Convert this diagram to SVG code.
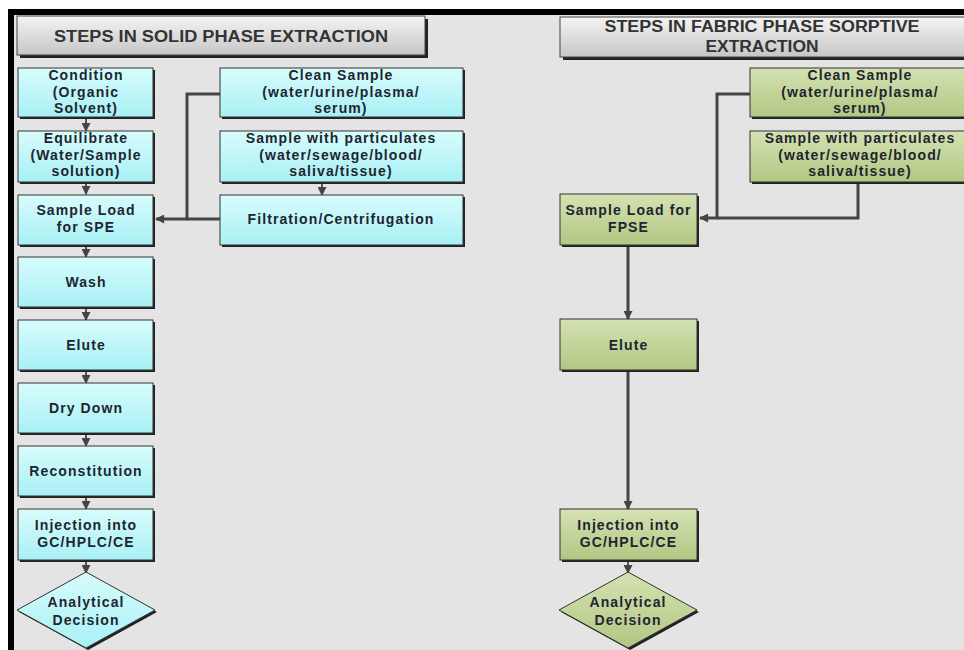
<svg xmlns="http://www.w3.org/2000/svg" width="964" height="650" viewBox="0 0 964 650">
<defs>
<linearGradient id="gCyan" x1="0" y1="0" x2="0" y2="1"><stop offset="0" stop-color="#d8fcfc"/><stop offset="1" stop-color="#a8f0f5"/></linearGradient>
<linearGradient id="gGreen" x1="0" y1="0" x2="0" y2="1"><stop offset="0" stop-color="#d4e2b2"/><stop offset="1" stop-color="#b2c783"/></linearGradient>
<linearGradient id="gGray" x1="0" y1="0" x2="0" y2="1"><stop offset="0" stop-color="#f4f4f4"/><stop offset="1" stop-color="#c6c6c6"/></linearGradient>
<marker id="arr" viewBox="0 0 10 10" refX="9" refY="5" markerUnits="userSpaceOnUse" markerWidth="10" markerHeight="9" orient="auto"><path d="M0,0 L10,5 L0,10 z" fill="#444"/></marker>
</defs>
<style>
.shadow{fill:#222}
.cyan{fill:url(#gCyan);stroke:#333;stroke-width:1}
.green{fill:url(#gGreen);stroke:#333;stroke-width:1}
.gray{fill:url(#gGray);stroke:#444;stroke-width:1}
.t{font-family:"Liberation Sans",Arial,sans-serif;font-weight:bold;font-size:14px;letter-spacing:1.1px;fill:#1e2530;text-anchor:middle}
.title{font-family:"Liberation Sans",Arial,sans-serif;font-weight:bold;font-size:16px;fill:#333;text-anchor:middle}
.conn{fill:none;stroke:#444;stroke-width:3}
.stub{fill:none;stroke:#555;stroke-width:2}
</style>
<rect x="0" y="0" width="964" height="650" fill="#ffffff"/>
<rect x="14" y="15" width="950" height="635" fill="#e4e4e4"/>
<rect x="8" y="9" width="956" height="6" fill="#000"/>
<rect x="8" y="9" width="6" height="641" fill="#000"/>

<g id="title-spe">
<rect class="shadow" x="20" y="19" width="408" height="39"/>
<rect class="gray" x="17" y="16" width="408" height="39"/>
<text class="title" x="221" y="42" textLength="334" lengthAdjust="spacingAndGlyphs">STEPS IN SOLID PHASE EXTRACTION</text>
</g>
<g id="title-fpse">
<rect class="shadow" x="563" y="20" width="410" height="40"/>
<rect class="gray" x="560" y="17" width="410" height="40"/>
<text class="title" x="762" y="32" textLength="315" lengthAdjust="spacingAndGlyphs">STEPS IN FABRIC PHASE SORPTIVE</text>
<text class="title" x="762" y="52" textLength="113" lengthAdjust="spacingAndGlyphs">EXTRACTION</text>
</g>

<g id="connectors">
<line class="stub" x1="86" y1="119" x2="86" y2="131" marker-end="url(#arr)"/>
<line class="stub" x1="86" y1="184" x2="86" y2="194" marker-end="url(#arr)"/>
<line class="stub" x1="86" y1="247" x2="86" y2="257" marker-end="url(#arr)"/>
<line class="stub" x1="86" y1="309" x2="86" y2="320" marker-end="url(#arr)"/>
<line class="stub" x1="86" y1="372" x2="86" y2="383" marker-end="url(#arr)"/>
<line class="stub" x1="86" y1="435" x2="86" y2="446" marker-end="url(#arr)"/>
<line class="stub" x1="86" y1="498" x2="86" y2="509" marker-end="url(#arr)"/>
<line class="stub" x1="86" y1="562" x2="86" y2="573" marker-end="url(#arr)"/>
<line class="stub" x1="322" y1="184" x2="322" y2="195" marker-end="url(#arr)"/>
<path class="conn" d="M220,94 H187 V219 H156" marker-end="url(#arr)"/>
<path class="conn" d="M220,219 H187"/>
<path class="conn" d="M750,94 H717 V218 H700" marker-end="url(#arr)"/>
<path class="conn" d="M858,184 V218 H717"/>
<line class="conn" x1="628" y1="247" x2="628" y2="319" marker-end="url(#arr)"/>
<line class="conn" x1="628" y1="372" x2="628" y2="509" marker-end="url(#arr)"/>
<line class="stub" x1="628" y1="562" x2="628" y2="573" marker-end="url(#arr)"/>
</g>

<g id="condition">
<rect class="shadow" x="20" y="70" width="135" height="49"/>
<rect class="cyan" x="18" y="68" width="135" height="49"/>
<text class="t" x="86" y="80">Condition</text>
<text class="t" x="86" y="96.5">(Organic</text>
<text class="t" x="86" y="113">Solvent)</text>
</g>
<g id="equilibrate">
<rect class="shadow" x="20" y="133" width="135" height="51"/>
<rect class="cyan" x="18" y="131" width="135" height="51"/>
<text class="t" x="86" y="143">Equilibrate</text>
<text class="t" x="86" y="159.5">(Water/Sample</text>
<text class="t" x="86" y="176">solution)</text>
</g>
<g id="sample-load-spe">
<rect class="shadow" x="20" y="197" width="135" height="50"/>
<rect class="cyan" x="18" y="195" width="135" height="50"/>
<text class="t" x="86" y="215">Sample Load</text>
<text class="t" x="86" y="232">for SPE</text>
</g>
<g id="wash">
<rect class="shadow" x="20" y="259" width="135" height="50"/>
<rect class="cyan" x="18" y="257" width="135" height="50"/>
<text class="t" x="86" y="287">Wash</text>
</g>
<g id="elute-spe">
<rect class="shadow" x="20" y="322" width="135" height="50"/>
<rect class="cyan" x="18" y="320" width="135" height="50"/>
<text class="t" x="86" y="350">Elute</text>
</g>
<g id="dry-down">
<rect class="shadow" x="20" y="385" width="135" height="50"/>
<rect class="cyan" x="18" y="383" width="135" height="50"/>
<text class="t" x="86" y="413">Dry Down</text>
</g>
<g id="reconstitution">
<rect class="shadow" x="20" y="448" width="135" height="50"/>
<rect class="cyan" x="18" y="446" width="135" height="50"/>
<text class="t" x="86" y="476">Reconstitution</text>
</g>
<g id="injection-spe">
<rect class="shadow" x="20" y="511" width="135" height="51"/>
<rect class="cyan" x="18" y="509" width="135" height="51"/>
<text class="t" x="86" y="530">Injection into</text>
<text class="t" x="86" y="547">GC/HPLC/CE</text>
</g>
<g id="decision-spe">
<polygon class="shadow" points="88,574 157,612 88,650 19,612"/>
<polygon class="cyan" points="86,572 155,610 86,648 17,610"/>
<text class="t" x="86" y="607">Analytical</text>
<text class="t" x="86" y="625">Decision</text>
</g>
<g id="clean-spe">
<rect class="shadow" x="222" y="70" width="243" height="49"/>
<rect class="cyan" x="220" y="68" width="243" height="49"/>
<text class="t" x="341" y="80">Clean Sample</text>
<text class="t" x="341" y="96.5">(water/urine/plasma/</text>
<text class="t" x="341" y="113">serum)</text>
</g>
<g id="particulates-spe">
<rect class="shadow" x="222" y="133" width="243" height="51"/>
<rect class="cyan" x="220" y="131" width="243" height="51"/>
<text class="t" x="341" y="143">Sample with particulates</text>
<text class="t" x="341" y="159.5">(water/sewage/blood/</text>
<text class="t" x="341" y="176">saliva/tissue)</text>
</g>
<g id="filtration">
<rect class="shadow" x="222" y="197" width="243" height="50"/>
<rect class="cyan" x="220" y="195" width="243" height="50"/>
<text class="t" x="341" y="224">Filtration/Centrifugation</text>
</g>

<g id="clean-fpse">
<rect class="shadow" x="752" y="70" width="220" height="49"/>
<rect class="green" x="750" y="68" width="220" height="49"/>
<text class="t" x="860" y="80">Clean Sample</text>
<text class="t" x="860" y="96.5">(water/urine/plasma/</text>
<text class="t" x="860" y="113">serum)</text>
</g>
<g id="particulates-fpse">
<rect class="shadow" x="752" y="133" width="220" height="51"/>
<rect class="green" x="750" y="131" width="220" height="51"/>
<text class="t" x="860" y="143">Sample with particulates</text>
<text class="t" x="860" y="159.5">(water/sewage/blood/</text>
<text class="t" x="860" y="176">saliva/tissue)</text>
</g>
<g id="sample-load-fpse">
<rect class="shadow" x="562" y="196" width="137" height="51"/>
<rect class="green" x="560" y="194" width="137" height="51"/>
<text class="t" x="628.5" y="215">Sample Load for</text>
<text class="t" x="628.5" y="232">FPSE</text>
</g>
<g id="elute-fpse">
<rect class="shadow" x="562" y="321" width="137" height="51"/>
<rect class="green" x="560" y="319" width="137" height="51"/>
<text class="t" x="628.5" y="350">Elute</text>
</g>
<g id="injection-fpse">
<rect class="shadow" x="562" y="511" width="137" height="51"/>
<rect class="green" x="560" y="509" width="137" height="51"/>
<text class="t" x="628.5" y="530">Injection into</text>
<text class="t" x="628.5" y="547">GC/HPLC/CE</text>
</g>
<g id="decision-fpse">
<polygon class="shadow" points="630,574 699,612 630,650 561,612"/>
<polygon class="green" points="628,572 697,610 628,648 559,610"/>
<text class="t" x="628" y="607">Analytical</text>
<text class="t" x="628" y="625">Decision</text>
</g>
</svg>
